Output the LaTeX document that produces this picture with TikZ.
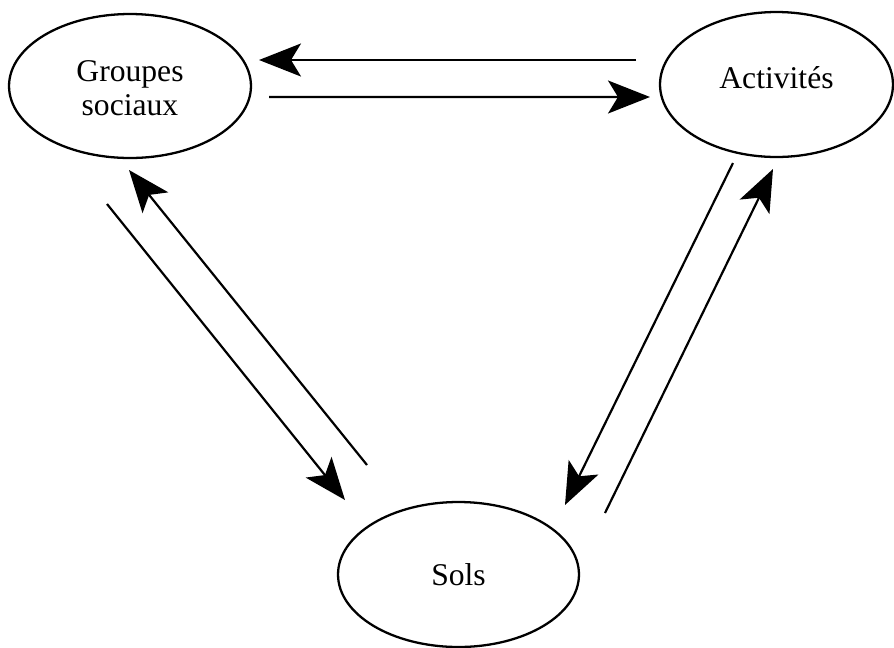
\documentclass[tikz,border=0pt]{standalone}
\usepackage{fontspec}
\setmainfont{Liberation Serif}
\usetikzlibrary{arrows.meta,shapes.geometric}
\tikzset{
  etat/.style={draw,ellipse,line width=1.3pt,inner sep=0pt,
    align=center,font=\fontsize{18}{19.5}\selectfont},
  fleche/.style={line width=1.25pt,
    -{Stealth[length=0.84cm,width=0.66cm,inset=0.2cm]}}
}
\begin{document}
\begin{tikzpicture}[x=0.02cm,y=-0.02cm]
      \useasboundingbox (0,0) rectangle (894,647);
      \node[etat,minimum width=4.84cm,minimum height=2.88cm] (groupes) at (130,86) {\raisebox{-14pt}{Groupes}\\\raisebox{-14pt}{sociaux}};
      \node[etat,minimum width=4.66cm,minimum height=2.9cm] (activites) at (776.5,84.5) {\raisebox{8pt}{Activités}};
      \node[etat,minimum width=4.82cm,minimum height=2.9cm] (sols) at (458.5,574.5) {Sols};
      \begin{scope}[fleche]
        \draw ([shift={(-140.5,-24.5)}]activites.center) to ([shift={(129,-26)}]groupes.center);
        \draw ([shift={(139,11)}]groupes.center) to ([shift={(-126.5,12.5)}]activites.center);
        \draw ([shift={(-23,118)}]groupes.center) to ([shift={(-113.5,-74.5)}]sols.center);
        \draw ([shift={(-91.5,-109.5)}]sols.center) to ([shift={(-1,84)}]groupes.center);
        \draw ([shift={(-43.5,78.5)}]activites.center) to ([shift={(106.5,-69.5)}]sols.center);
        \draw ([shift={(146.5,-61.5)}]sols.center) to ([shift={(-3.5,84.5)}]activites.center);
      \end{scope}
    \end{tikzpicture}
\end{document}
